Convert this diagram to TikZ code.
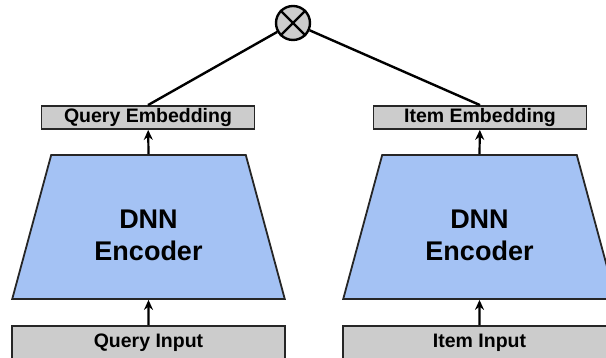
\documentclass[tikz,border=0pt]{standalone}
\usepackage{fontspec}
\setmainfont{Liberation Sans}
\usetikzlibrary{arrows.meta,positioning,shapes.geometric}
\definecolor{encblue}{HTML}{A4C2F4}
\definecolor{boxgray}{HTML}{CCCCCC}

\begin{document}
\begin{tikzpicture}[
    x=1pt, y=1pt,
    emb/.style={draw=black!85, line width=1.8pt, fill=boxgray, minimum width=213pt,
                minimum height=23pt, inner sep=0pt, font=\fontsize{19.5}{21}\selectfont\bfseries},
    inbox/.style={draw=black!85, line width=1.8pt, fill=boxgray, minimum width=273pt,
                  minimum height=34pt, inner sep=0pt, font=\fontsize{19.5}{21}\selectfont\bfseries},
    enc/.style={trapezium, trapezium stretches=true, trapezium left angle=76,
                trapezium right angle=76, draw=black!85, line width=1.8pt, fill=encblue,
                minimum width=273pt, minimum height=144pt, inner sep=2pt,
                font=\fontsize{27}{32}\selectfont\bfseries},
    arr/.style={-{Stealth[length=10pt,width=9pt]}, line width=2.2pt},
    link/.style={line width=2.4pt},
]
\useasboundingbox (0,0) rectangle (606,358);
\clip (0,0) rectangle (606,358);

% query tower
\node[inbox] (qin) at (148.5,15) {Query Input};
\node[enc] (qenc) at (148.5,131) {\raisebox{0pt}[\dimexpr\height+22pt\relax]{\begin{tabular}{@{}c@{}}DNN\\Encoder\end{tabular}}};
\node[emb] (qemb) at (148,240.5) {Query Embedding};

% item tower
\node[inbox] (iin) at (479.5,15) {Item Input};
\node[enc] (ienc) at (479.5,131) {\raisebox{0pt}[\dimexpr\height+22pt\relax]{\begin{tabular}{@{}c@{}}DNN\\Encoder\end{tabular}}};
\node[emb] (iemb) at (480,240.5) {Item Embedding};

% product
\node[circle, draw, line width=2.4pt, fill=boxgray, minimum size=34pt] (mul) at (293,335) {};
\draw[line width=2.4pt] (mul.north west) -- (mul.south east) (mul.north east) -- (mul.south west);

\draw[arr] (qin) -- (qenc.south);
\draw[arr] (qenc.north) -- (qemb);
\draw[arr] (iin) -- (ienc.south);
\draw[arr] (ienc.north) -- (iemb);
\draw[link] (mul) -- (qemb.north);
\draw[link] (mul) -- (iemb.north);
\end{tikzpicture}
\end{document}
